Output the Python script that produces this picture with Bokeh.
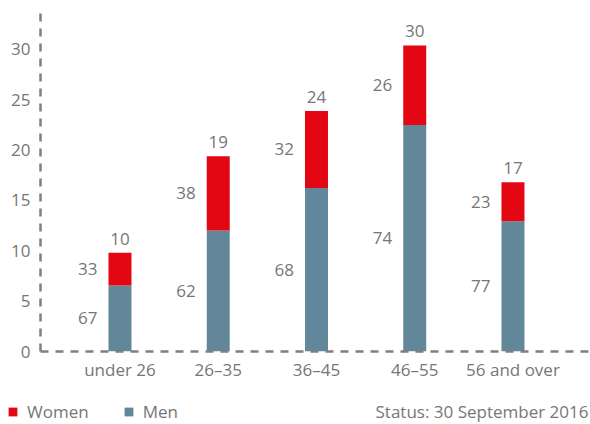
from bokeh.plotting import figure
from bokeh.models import (Range1d, FixedTicker, Legend, LegendItem, Label,
                          ColumnDataSource)
from bokeh.layouts import column
from bokeh.core.properties import value
from bokeh.embed import file_html
from bokeh.resources import INLINE

# ---- data ----
categories = ["under 26", "26–35", "36–45", "46–55", "56 and over"]
totals = [9.8, 19.4, 23.9, 30.4, 16.8]          # % of all employees (bar height)
men_pct = [67, 62, 68, 74, 77]                  # share of men within group (%)
women_pct = [33, 38, 32, 26, 23]                # share of women within group (%)
y_ticks = [0, 5, 10, 15, 20, 25, 30]
series = ["Women", "Men"]
status_text = "Status: 30 September 2016"

# ---- styles ----
RED = "#E30613"
BLUE = "#62879A"
GRAY = "#767676"
AXIS = "#808080"
FONT = "Open Sans"
FS = "17px"
BAR_W = 0.234

xs = list(range(len(categories)))
men_h = [t * m / 100 for t, m in zip(totals, men_pct)]
src = ColumnDataSource(dict(
    x=xs,
    xl=[x - BAR_W / 2 for x in xs],
    total=totals,
    men_h=men_h,
    men_mid=[h / 2 for h in men_h],
    women_mid=[h + (t - h) / 2 for h, t in zip(men_h, totals)],
    men_lbl=[str(m) for m in men_pct],
    women_lbl=[str(w) for w in women_pct],
    total_lbl=[f"{t:.0f}" for t in totals],
))

p = figure(width=590, height=386,
           x_range=Range1d(-0.809, 4.789), y_range=Range1d(0, 33.87),
           output_backend="svg", toolbar_location=None,
           min_border_left=40, min_border_right=0,
           min_border_top=10, min_border_bottom=35)
p.outline_line_color = None
p.grid.visible = False
p.background_fill_color = "white"
p.frame_align = False

r_m = p.vbar(x="x", bottom=0, top="men_h", width=BAR_W, source=src,
             fill_color=BLUE, line_color=None)
r_w = p.vbar(x="x", bottom="men_h", top="total", width=BAR_W, source=src,
             fill_color=RED, line_color=None)

common = dict(text_font=value(FONT), text_font_size=FS, text_color=GRAY, source=src)
p.text(x="xl", y="men_mid", text="men_lbl", x_offset=-11,
       text_align="right", text_baseline="middle", **common)
p.text(x="xl", y="women_mid", text="women_lbl", x_offset=-11,
       text_align="right", text_baseline="middle", **common)
p.text(x="x", y="total", text="total_lbl", y_offset=-14,
       text_align="center", text_baseline="alphabetic", **common)

# axes
for ax in (p.xaxis[0], p.yaxis[0]):
    ax.axis_line_color = AXIS
    ax.axis_line_width = 2.5
    ax.axis_line_dash = "8 7"
    ax.major_tick_line_color = None
    ax.minor_tick_line_color = None
    ax.major_tick_out = 0
    ax.major_tick_in = 0
    ax.minor_tick_out = 0
    ax.major_label_text_font = FONT
    ax.major_label_text_font_size = FS
    ax.major_label_text_color = GRAY

p.yaxis.ticker = FixedTicker(ticks=y_ticks)
p.yaxis.major_label_standoff = 10
p.xaxis.ticker = FixedTicker(ticks=xs)
p.xaxis.major_label_overrides = {x: c for x, c in zip(xs, categories)}
p.xaxis.major_label_standoff = 6

# ---- footer strip: legend + status ----
f = figure(width=590, height=38, x_range=Range1d(0, 1), y_range=Range1d(0, 1),
           output_backend="svg", toolbar_location=None,
           x_axis_type=None, y_axis_type=None, min_border=0)
f.outline_line_color = None
f.grid.visible = False
f.frame_align = False
# legend swatches (their single bar lies outside the visible range)
lw = f.vbar(x=[5], top=[1], width=0.1, fill_color=RED, line_color=None)
lm = f.vbar(x=[5], top=[1], width=0.1, fill_color=BLUE, line_color=None)

legend = Legend(items=[LegendItem(label=series[0], renderers=[lw]),
                       LegendItem(label=series[1], renderers=[lm])],
                location=(7, 1), orientation="horizontal",
                glyph_width=11, glyph_height=11, label_standoff=9,
                spacing=34, padding=0, margin=0,
                border_line_color=None, background_fill_alpha=0,
                label_text_font=FONT, label_text_font_size=FS,
                label_text_color=GRAY)
f.add_layout(legend)

f.add_layout(Label(x=375, y=13, x_units="screen", y_units="screen",
                   text=status_text, text_font=FONT, text_font_size=FS,
                   text_color=GRAY, text_baseline="alphabetic"))

open("out.html", "w").write(file_html(column(p, f, spacing=0), INLINE))
